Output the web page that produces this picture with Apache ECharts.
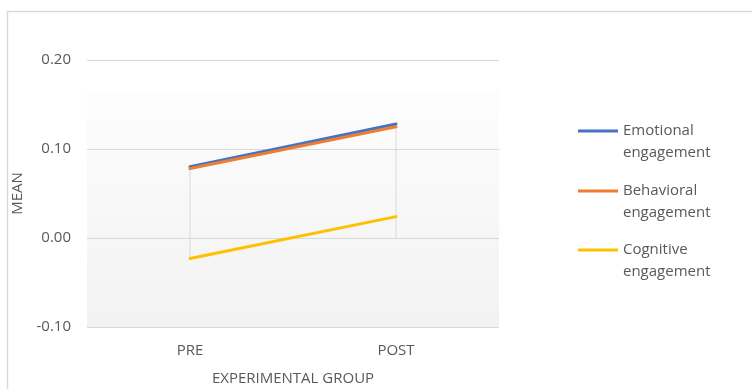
<!DOCTYPE html>
<html>
<head>
<meta charset="utf-8">
<script src="https://cdn.jsdelivr.net/npm/echarts@6/dist/echarts.min.js"></script>
<style>
  html, body { margin: 0; padding: 0; background: #fff; }
  #chart { width: 752px; height: 389px; }
</style>
</head>
<body>
<div id="chart"></div>
<script>
// Mean engagement scores of the experimental group, before and after
const categories = ['PRE', 'POST'];
const emotional = [0.080, 0.128];
const behavioral = [0.078, 0.125];
const cognitive = [-0.023, 0.024];
const seriesNames = ['Emotional\nengagement', 'Behavioral\nengagement', 'Cognitive\nengagement'];
const yTicks = { min: -0.1, max: 0.2, step: 0.1 };

const FONT = 'Open Sans';
const FS = 15;
const TEXT = '#595959';
const colors = ['#4472C4', '#ED7D31', '#FFC000'];
const allSeries = [emotional, behavioral, cognitive];

// Drop lines: from the category axis (0) to each point
const dropData = categories.map((c, i) => {
  const vals = allSeries.map(s => s[i]);
  return [i, Math.min(0, ...vals), Math.max(0, ...vals)];
});

const chart = echarts.init(document.getElementById('chart'), null, { renderer: 'canvas' });

// Each legend entry sits beside the first line of its two-line label:
// a blank leading line keeps the swatch centred on that line.
const legendTops = [93, 153, 212];

chart.setOption({
  backgroundColor: '#fff',
  animation: false,
  graphic: [{
    type: 'rect',
    left: 5, top: 9,
    shape: { width: 900, height: 500 },
    style: { fill: 'none', stroke: '#d9d9d9', lineWidth: 1.5 },
    silent: true, z: -10
  }],
  grid: {
    left: 87, top: 60, width: 412, height: 267,
    outerBoundsMode: 'none',
    containLabel: false,
    show: true, borderWidth: 0,
    backgroundColor: {
      type: 'linear', x: 0, y: 0, x2: 0, y2: 1,
      colorStops: [
        { offset: 0, color: '#ffffff' },
        { offset: 0.115, color: '#ffffff' },
        { offset: 0.117, color: '#fdfdfd' },
        { offset: 1, color: '#f2f2f2' }
      ]
    }
  },
  legend: seriesNames.map((n, i) => ({
    data: [n],
    left: 573,
    top: legendTops[i],
    orient: 'vertical',
    itemWidth: 40,
    itemHeight: 3,
    icon: 'rect',
    itemGap: 0,
    selectedMode: false,
    formatter: name => '\n' + name,
    textStyle: {
      fontFamily: FONT, fontSize: FS, color: TEXT, lineHeight: 22
    }
  })),
  xAxis: {
    type: 'category',
    data: categories,
    boundaryGap: true,
    axisLine: { show: false },
    axisTick: { show: false },
    axisLabel: { color: TEXT, fontFamily: FONT, fontSize: FS, margin: 16 },
    name: 'EXPERIMENTAL GROUP',
    nameLocation: 'middle',
    nameGap: 44,
    nameTextStyle: { color: TEXT, fontFamily: FONT, fontSize: FS }
  },
  yAxis: {
    type: 'value',
    min: yTicks.min, max: yTicks.max, interval: yTicks.step,
    axisLine: { show: false },
    axisTick: { show: false },
    splitLine: { lineStyle: { color: '#d9d9d9', width: 1 } },
    axisLabel: {
      color: TEXT, fontFamily: FONT, fontSize: FS, margin: 16,
      formatter: v => v.toFixed(2)
    },
    name: 'MEAN',
    nameLocation: 'middle',
    nameRotate: 90,
    nameGap: 61,
    nameTextStyle: { color: TEXT, fontFamily: FONT, fontSize: FS }
  },
  series: [
    {
      type: 'custom',
      name: 'drop',
      data: dropData,
      z: 1,
      renderItem: (params, api) => {
        const p1 = api.coord([api.value(0), api.value(1)]);
        const p2 = api.coord([api.value(0), api.value(2)]);
        return {
          type: 'line',
          shape: { x1: p1[0], y1: p1[1], x2: p2[0], y2: p2[1] },
          style: { stroke: '#d9d9d9', lineWidth: 1 }
        };
      }
    },
    ...allSeries.map((d, i) => ({
      type: 'line',
      name: seriesNames[i],
      data: d,
      symbol: 'none',
      color: colors[i],
      lineStyle: { width: 3, color: colors[i], cap: 'round' },
      z: 2 + i
    }))
  ]
});
</script>
</body>
</html>
